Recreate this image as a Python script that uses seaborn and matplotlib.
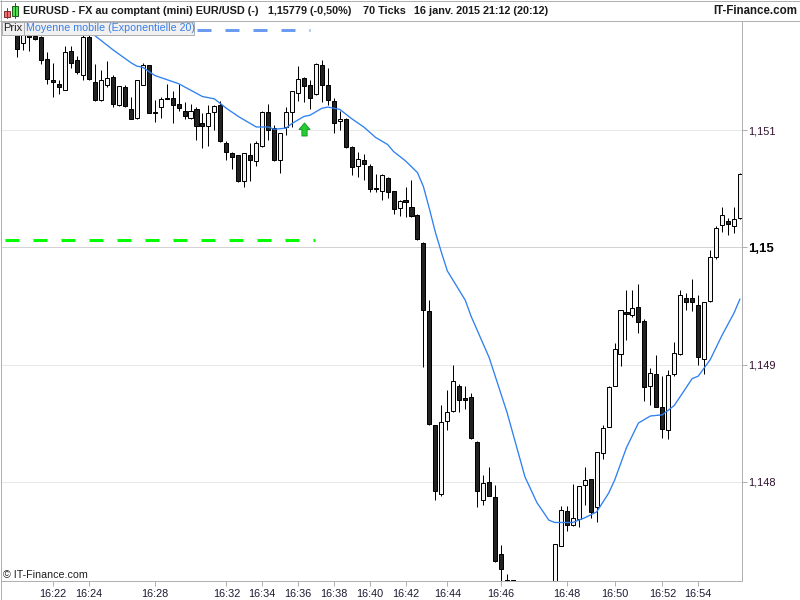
#     Imports
import matplotlib.pyplot as plt
import numpy as np
import pandas as pd
import seaborn as sns
from matplotlib.patches import Rectangle
from matplotlib.path import Path

# candles, 70 ticks each (some run below the visible range)
opens = [
    1.15186, 1.15175, 1.15186, 1.15181, 1.15180, 1.15161, 1.15143, 1.15140, 1.15135, 1.15168,
    1.15160, 1.15147, 1.15180, 1.15141, 1.15126, 1.15139, 1.15146, 1.15122, 1.15137, 1.15118,
    1.15111, 1.15139, 1.15156, 1.15116, 1.15120, 1.15128, 1.15128, 1.15123, 1.15117, 1.15111,
    1.15118, 1.15106, 1.15104, 1.15116, 1.15122, 1.15089, 1.15081, 1.15079, 1.15057, 1.15079,
    1.15074, 1.15087, 1.15116, 1.15102, 1.15075, 1.15103, 1.15116, 1.15132, 1.15145, 1.15139,
    1.15131, 1.15156, 1.15139, 1.15125, 1.15108, 1.15110, 1.15086, 1.15070, 1.15075, 1.15070,
    1.15051, 1.15048, 1.15059, 1.15048, 1.15034, 1.15041, 1.15035, 1.15028, 1.15004, 1.14946,
    1.14848, 1.14789, 1.14852, 1.14860, 1.14882, 1.14871, 1.14872, 1.14834, 1.14784, 1.14800,
    1.14787, 1.14738, 1.14716, 1.14716, 1.14700, 1.14690, 1.14682, 1.14675, 1.14682, 1.14690,
    1.14700, 1.14745, 1.14775, 1.14763, 1.14768, 1.14797, 1.14802, 1.14778, 1.14824, 1.14847,
    1.14882, 1.14909, 1.14945, 1.14942, 1.14949, 1.14937, 1.14882, 1.14892, 1.14864, 1.14844,
    1.14892, 1.14909, 1.14957, 1.14957, 1.14951, 1.14905, 1.14954, 1.14992, 1.15019, 1.15023,
    1.15018, 1.15025,
]
highs = [
    1.15190, 1.15190, 1.15190, 1.15186, 1.15181, 1.15167, 1.15158, 1.15143, 1.15172, 1.15172,
    1.15164, 1.15183, 1.15183, 1.15157, 1.15152, 1.15159, 1.15147, 1.15138, 1.15139, 1.15129,
    1.15143, 1.15158, 1.15156, 1.15126, 1.15129, 1.15140, 1.15134, 1.15140, 1.15124, 1.15123,
    1.15120, 1.15115, 1.15122, 1.15122, 1.15125, 1.15091, 1.15082, 1.15079, 1.15081, 1.15089,
    1.15091, 1.15117, 1.15123, 1.15105, 1.15098, 1.15120, 1.15134, 1.15155, 1.15146, 1.15143,
    1.15158, 1.15160, 1.15153, 1.15128, 1.15117, 1.15111, 1.15087, 1.15082, 1.15080, 1.15071,
    1.15063, 1.15063, 1.15060, 1.15048, 1.15041, 1.15052, 1.15058, 1.15029, 1.15005, 1.14955,
    1.14848, 1.14865, 1.14878, 1.14900, 1.14883, 1.14882, 1.14876, 1.14835, 1.14806, 1.14812,
    1.14797, 1.14746, 1.14721, 1.14716, 1.14708, 1.14695, 1.14688, 1.14688, 1.14695, 1.14705,
    1.14747, 1.14779, 1.14779, 1.14798, 1.14796, 1.14812, 1.14802, 1.14825, 1.14848, 1.14882,
    1.14918, 1.14947, 1.14964, 1.14964, 1.14969, 1.14939, 1.14897, 1.14908, 1.14890, 1.14895,
    1.14919, 1.14964, 1.14961, 1.14973, 1.14959, 1.14953, 1.14998, 1.15018, 1.15035, 1.15025,
    1.15035, 1.15064,
]
lows = [
    1.15163, 1.15169, 1.15168, 1.15177, 1.15157, 1.15140, 1.15129, 1.15131, 1.15135, 1.15153,
    1.15148, 1.15143, 1.15143, 1.15125, 1.15125, 1.15137, 1.15120, 1.15121, 1.15120, 1.15110,
    1.15110, 1.15139, 1.15115, 1.15107, 1.15111, 1.15127, 1.15106, 1.15117, 1.15110, 1.15110,
    1.15092, 1.15085, 1.15087, 1.15100, 1.15090, 1.15075, 1.15067, 1.15056, 1.15052, 1.15057,
    1.15070, 1.15086, 1.15092, 1.15074, 1.15064, 1.15096, 1.15103, 1.15125, 1.15124, 1.15118,
    1.15130, 1.15124, 1.15122, 1.15098, 1.15100, 1.15085, 1.15062, 1.15060, 1.15058, 1.15047,
    1.15047, 1.15041, 1.15042, 1.15029, 1.15027, 1.15026, 1.15026, 1.15006, 1.14898, 1.14848,
    1.14784, 1.14788, 1.14844, 1.14859, 1.14859, 1.14862, 1.14836, 1.14778, 1.14780, 1.14788,
    1.14731, 1.14707, 1.14707, 1.14695, 1.14686, 1.14678, 1.14670, 1.14672, 1.14678, 1.14688,
    1.14695, 1.14745, 1.14758, 1.14762, 1.14761, 1.14780, 1.14769, 1.14765, 1.14819, 1.14847,
    1.14882, 1.14899, 1.14921, 1.14941, 1.14927, 1.14869, 1.14865, 1.14864, 1.14837, 1.14836,
    1.14890, 1.14908, 1.14947, 1.14946, 1.14900, 1.14892, 1.14953, 1.14990, 1.15013, 1.15011,
    1.15012, 1.15024,
]
closes = [
    1.15170, 1.15186, 1.15180, 1.15178, 1.15160, 1.15144, 1.15141, 1.15137, 1.15167, 1.15158,
    1.15150, 1.15180, 1.15144, 1.15126, 1.15143, 1.15145, 1.15123, 1.15138, 1.15121, 1.15110,
    1.15143, 1.15156, 1.15115, 1.15115, 1.15127, 1.15127, 1.15122, 1.15119, 1.15112, 1.15117,
    1.15104, 1.15104, 1.15115, 1.15121, 1.15091, 1.15082, 1.15077, 1.15057, 1.15081, 1.15075,
    1.15089, 1.15116, 1.15100, 1.15075, 1.15098, 1.15116, 1.15134, 1.15144, 1.15138, 1.15128,
    1.15157, 1.15139, 1.15126, 1.15106, 1.15110, 1.15086, 1.15069, 1.15076, 1.15071, 1.15050,
    1.15050, 1.15062, 1.15047, 1.15033, 1.15040, 1.15039, 1.15027, 1.15007, 1.14947, 1.14849,
    1.14792, 1.14851, 1.14859, 1.14886, 1.14870, 1.14870, 1.14837, 1.14792, 1.14799, 1.14788,
    1.14732, 1.14725, 1.14715, 1.14699, 1.14690, 1.14682, 1.14675, 1.14682, 1.14690, 1.14700,
    1.14747, 1.14776, 1.14763, 1.14769, 1.14796, 1.14801, 1.14774, 1.14825, 1.14846, 1.14881,
    1.14913, 1.14947, 1.14943, 1.14948, 1.14936, 1.14881, 1.14893, 1.14864, 1.14845, 1.14891,
    1.14910, 1.14959, 1.14953, 1.14953, 1.14906, 1.14953, 1.14992, 1.15017, 1.15028, 1.15020,
    1.15024, 1.15063,
]

# exponential moving average, read at these candles
ema_idx = [
    10, 13, 16, 19, 20, 21, 23, 27, 31, 33, 35, 37, 40, 42, 43, 45, 46, 48, 49, 51, 52, 54, 56,
    58, 60, 62, 63, 65, 67, 68, 69, 70, 71, 72, 75, 76, 79, 82, 85, 87, 89, 90, 93, 95, 97, 99,
    100, 102, 104, 106, 108, 110, 113, 114, 116, 118, 120, 121,
]
ema_values = [
    1.15191, 1.15181, 1.15169, 1.15158, 1.15155, 1.15154, 1.15147, 1.15140, 1.15129, 1.15127,
    1.15119, 1.15112, 1.15103, 1.15103, 1.15101, 1.15102, 1.15106, 1.15112, 1.15113, 1.15119,
    1.15120, 1.15118, 1.15110, 1.15103, 1.15094, 1.15088, 1.15082, 1.15074, 1.15064, 1.15052,
    1.15033, 1.15013, 1.14996, 1.14980, 1.14955, 1.14941, 1.14906, 1.14859, 1.14804, 1.14782,
    1.14767, 1.14765, 1.14765, 1.14769, 1.14774, 1.14790, 1.14801, 1.14829, 1.14850, 1.14856,
    1.14857, 1.14865, 1.14888, 1.14890, 1.14904, 1.14925, 1.14944, 1.14956,
]

# x axis, tick label sits on this candle
time_idx = [6, 12, 23, 35, 41, 47, 53, 59, 65, 72, 81, 92, 100, 108, 114]
time_labels = ["16:22", "16:24", "16:28", "16:32", "16:34", "16:36", "16:38", "16:40",
               "16:42", "16:44", "16:46", "16:48", "16:50", "16:52", "16:54"]
price_ticks = [1.148, 1.149, 1.15, 1.151]
price_labels = ["1,148", "1,149", "1,15", "1,151"]

# levels and signal
blue_level = 1.15186
green_level = 1.15006
signal_idx = 48
signal_price = 1.15101

sns.set_theme(style="white")
plt.rcParams['font.family'] = ['Liberation Sans', 'DejaVu Sans']
plt.rcParams['lines.scale_dashes'] = False

candles = pd.DataFrame({"open": opens, "high": highs, "low": lows, "close": closes})
candles["idx"] = np.arange(len(candles))
candles["up"] = candles["close"] > candles["open"]
candles["top"] = candles[["open", "close"]].max(axis=1)
candles["bottom"] = candles[["open", "close"]].min(axis=1)
ema = pd.DataFrame({"idx": ema_idx, "ema": ema_values})

GREY = "#b0b0b0"
PX = 0.72  # one pixel in points at dpi 100

fig = plt.figure(figsize=(8, 6), dpi=100, facecolor="white")
ax = fig.add_axes([1 / 800, 19 / 600, 741 / 800, 561 / 600])
ax.set_xlim(-2.73, 121.34)
ax.set_ylim(1.14715, 1.151944)

# grid
ax.set_yticks(price_ticks)
ax.set_yticklabels(price_labels)
ax.yaxis.tick_right()
for tick, value in zip(ax.yaxis.get_major_ticks(), price_ticks):
    main = value == 1.15
    ax.axhline(value, color="#d2d2d2" if main else "#e8e8e8", lw=PX, zorder=0)
    tick.label2.set_fontsize(9.5 if main else 7.9)
    tick.label2.set_fontweight("bold" if main else "normal")
    tick.label2.set_color("black" if main else "#301030")

# candles
ax.vlines(candles["idx"], candles["low"], candles["high"], color="black", lw=PX, zorder=2)
for up, color in [(True, "#f6f6f6"), (False, "#222222")]:
    part = candles[candles["up"] == up]
    ax.bar(part["idx"], part["top"] - part["bottom"], bottom=part["bottom"], width=0.68,
           color=color, edgecolor="black", linewidth=PX, zorder=3)

# moving average
sns.lineplot(data=ema, x="idx", y="ema", color="#2f80f0", linewidth=0.95, ax=ax, zorder=4,
             legend=False)

# dashed levels
ax.plot([-2.73, 48.95], [blue_level, blue_level], color="#6c9bf2", lw=2.16,
        linestyle=(0, (10.08, 10.08)), dash_capstyle="butt", zorder=1)
ax.plot([-2.06, 49.85], [green_level, green_level], color="#00ff00", lw=2.16,
        linestyle=(0, (10.08, 10.08)), dash_capstyle="butt", zorder=1)

# buy arrow
arrow = Path([(-0.85, 0.0), (0.0, 1.0), (0.85, 0.0), (0.4, 0.0), (0.4, -1.0), (-0.4, -1.0),
              (-0.4, 0.0), (-0.85, 0.0)], closed=True)
ax.scatter([signal_idx], [signal_price], marker=arrow, s=88, color="#22cc33",
           edgecolor="#129020", linewidth=0.6, zorder=5)

ax.set_xticks(time_idx)
ax.set_xticklabels(time_labels)
ax.set_xlabel("")
ax.set_ylabel("")
ax.tick_params(axis="x", bottom=True, length=3.5, width=PX, color=GREY, labelsize=7.8,
               labelcolor="#1a1a30", pad=2.5)
ax.tick_params(axis="y", right=True, length=3.6, width=PX, color=GREY, pad=1)
for side, spine in ax.spines.items():
    spine.set_visible(side != "top")
    spine.set_color(GREY)
    spine.set_linewidth(PX)

# window chrome drawn in pixel coordinates
top = fig.add_axes([0, 0, 1, 1], facecolor="none")
top.set_xlim(0, 800)
top.set_ylim(600, 0)
top.axis("off")
top.add_patch(Rectangle((0, 0), 800, 20.5, fc="white", ec="none"))
top.plot([0, 800], [20.5, 20.5], color=GREY, lw=PX)
top.plot([0, 800], [0.5, 0.5], color=GREY, lw=PX)
top.plot([0.5, 0.5], [0, 600], color=GREY, lw=PX)
top.plot([799.5, 799.5], [0, 600], color=GREY, lw=PX)
top.plot([0, 800], [599.5, 599.5], color=GREY, lw=PX)

# candle icon
top.plot([6.5, 6.5], [8, 18], color="#803030", lw=PX)
top.add_patch(Rectangle((3.5, 10.5), 6, 6, fc="#f07070", ec="#803030", lw=PX))
top.plot([14.5, 14.5], [3, 18], color="#206020", lw=PX)
top.add_patch(Rectangle((11.5, 5.5), 6, 10, fc="#50e050", ec="#206020", lw=PX))

header = dict(fontsize=7.85, fontweight="bold", color="#1a1a1a", va="center")
top.text(23, 11, "EURUSD - FX au comptant (mini) EUR/USD (-)", **header)
top.text(268, 11, "1,15779 (-0,50%)", **header)
top.text(363, 11, "70 Ticks", **header)
top.text(414, 11, "16 janv. 2015 21:12 (20:12)", **header)
top.text(797, 11, "IT-Finance.com", ha="right", fontsize=8.3, fontweight="bold", color="#1a1a1a",
         va="center")

# legend tabs
top.add_patch(Rectangle((1.5, 21.5), 22, 13, fc="#f0f0f0", ec=GREY, lw=PX))
top.add_patch(Rectangle((23.5, 21.5), 170, 13, fc="#f0f0f0", ec=GREY, lw=PX))
top.text(3.5, 28, "Prix", fontsize=8, color="#202020", va="center")
top.text(26.5, 28, "Moyenne mobile (Exponentielle 20)", fontsize=7.65, color="#3a7ee8", va="center")
top.text(3, 575, "© IT-Finance.com", fontsize=7.7, color="#202020", va="center")

plt.savefig("out.png", dpi=100)
